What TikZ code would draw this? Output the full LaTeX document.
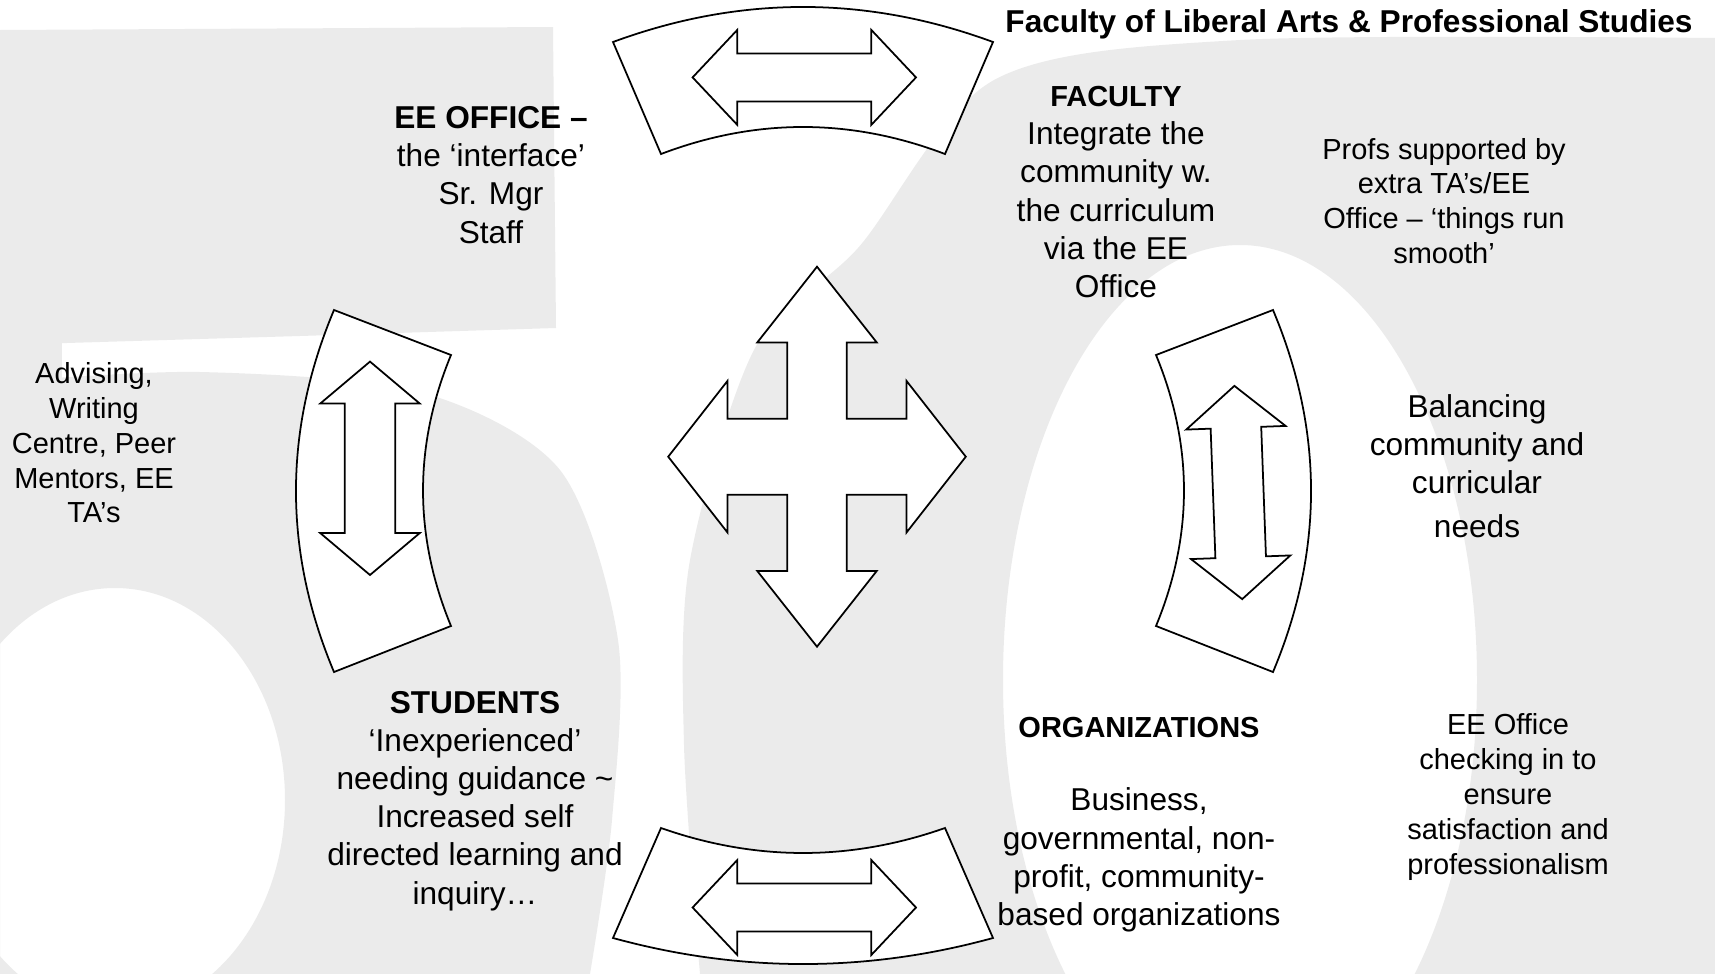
\documentclass[tikz,border=0pt]{standalone}
\usepackage{fontspec}
\setmainfont{Liberation Sans}
\definecolor{wmgray}{RGB}{235,235,235}
\newcommand{\bigtxt}{\fontsize{18}{21.7}\selectfont}
\newcommand{\smalltxt}{\fontsize{16.5}{19.8}\selectfont}

\begin{document}
\begin{tikzpicture}[x=0.02cm,y=-0.02cm,
    outline/.style={draw,line width=1pt,fill=white},
    wash/.style={fill=wmgray},
    heading/.style={align=center,font=\bigtxt,inner sep=0pt},
    aside/.style={align=center,font=\smalltxt,inner sep=0pt}]

  \useasboundingbox (0,0) rectangle (1715,974);

  % watermark
  \begin{scope}
    \clip (0,0) rectangle (1715,974);
    \fill[wash] (0,30) -- (553,27) -- (556,328) -- (300,336) -- (0,345) -- cycle;
    \fill[wash] (0,340) rectangle (62,390);
    \fill[wash,even odd rule] plot[smooth] coordinates {(0,382) (200,372) (420,392) (560,470) (618,640) (612,820) (590,974)} -- (0,974) -- cycle
      (115,800) ellipse [x radius=170,y radius=212];
    \fill[wash,even odd rule] plot[smooth] coordinates {(700,974) (684,745) (690,560) (755,348) (858,248) (994,80) (1240,40) (1715,38)} -- (1715,974) -- cycle
      (1240,680) ellipse [x radius=237,y radius=435];
  \end{scope}

  % curved frames
  \draw[outline] (613,42) .. controls (739.7,-4.7) and (866.3,-4.7) .. (993,42) -- (945,154) .. controls (850.3,118) and (755.7,118) .. (661,154) -- cycle;
  \draw[outline] (661,828) .. controls (755.7,861.3) and (850.3,861.3) .. (945,828) -- (993,938) .. controls (866.3,972.7) and (739.7,972.7) .. (613,938) -- cycle;
  \draw[outline] (334,310) -- (451,355) .. controls (413.7,445.3) and (413.7,535.7) .. (451,626) -- (334,672) .. controls (283.3,551.3) and (283.3,430.7) .. (334,310) -- cycle;
  \draw[outline] (1273,310) -- (1156,355) .. controls (1193.3,445.3) and (1193.3,535.7) .. (1156,626) -- (1273,672) .. controls (1323.7,551.3) and (1323.7,430.7) .. (1273,310) -- cycle;

  % double arrows
  \foreach \ypos in {77.4,907.5} {
    \begin{scope}[shift={(804.3,\ypos)}]
      \draw[outline] (-111.7,0) -- (-67,-47.5) -- (-67,-24) -- (67,-24) -- (67,-47.5) -- (111.7,0)
        -- (67,47.5) -- (67,24) -- (-67,24) -- (-67,47.5) -- cycle;
    \end{scope}
  }
  \begin{scope}[shift={(370,468.3)}]
    \draw[outline] (0,-106.7) -- (49.7,-64.8) -- (25.3,-64.8) -- (25.3,64.8) -- (49.7,64.8) -- (0,106.7)
      -- (-49.7,64.8) -- (-25.3,64.8) -- (-25.3,-64.8) -- (-49.7,-64.8) -- cycle;
  \end{scope}
  \begin{scope}[shift={(1238.3,492.5)},rotate=2.1]
    \draw[outline] (0,-106.7) -- (49.7,-64.8) -- (25.3,-64.8) -- (25.3,64.8) -- (49.7,64.8) -- (0,106.7)
      -- (-49.7,64.8) -- (-25.3,64.8) -- (-25.3,-64.8) -- (-49.7,-64.8) -- cycle;
  \end{scope}

  % four way arrow
  \begin{scope}[shift={(817,456.7)}]
    \draw[outline] (0,-190) -- (59.7,-114.3) -- (29.7,-114.3) -- (29.7,-38) -- (89.5,-38) -- (89.5,-75.8)
      -- (148.8,0) -- (89.5,75.8) -- (89.5,38) -- (29.7,38) -- (29.7,114.3) -- (59.7,114.3)
      -- (0,190) -- (-59.7,114.3) -- (-29.7,114.3) -- (-29.7,38) -- (-89.5,38) -- (-89.5,75.8)
      -- (-148.8,0) -- (-89.5,-75.8) -- (-89.5,-38) -- (-29.7,-38) -- (-29.7,-114.3) -- (-59.7,-114.3) -- cycle;
  \end{scope}

  % texts
  \node[heading] (title) at (1349,24) {\bfseries Faculty of Liberal Arts \& Professional Studies};
  \node[heading] (eeoffice) at (491,175) {\textbf{EE OFFICE –}\\the ‘interface’\\Sr. Mgr\\Staff};
  \node[heading] (faculty) at (1116,192) {{\fontsize{16.5}{21.7}\selectfont\bfseries FACULTY}\\Integrate the\\community w.\\the curriculum\\via the EE\\Office};
  \node[aside] (profs) at (1444,201) {Profs supported by\\extra TA’s/EE\\Office – ‘things run\\smooth’};
  \node[aside] (advising) at (94,443) {Advising,\\Writing\\Centre, Peer\\Mentors, EE\\TA’s};
  \node[heading] (balancing) at (1477,466) {Balancing\\community and\\curricular\\[3pt]needs};
  \node[heading] (students) at (475,801) {\textbf{STUDENTS}\\‘Inexperienced’\\needing guidance \textasciitilde\\Increased self\\directed learning and\\inquiry…};
  \node[heading,font=\smalltxt\bfseries] (orgs) at (1139,728) {ORGANIZATIONS};
  \node[heading] (orgtypes) at (1139,860) {Business,\\governmental, non-\\profit, community-\\based organizations};
  \node[aside] (eecheck) at (1508,797) {EE Office\\checking in to\\ensure\\satisfaction and\\professionalism};

\end{tikzpicture}
\end{document}
